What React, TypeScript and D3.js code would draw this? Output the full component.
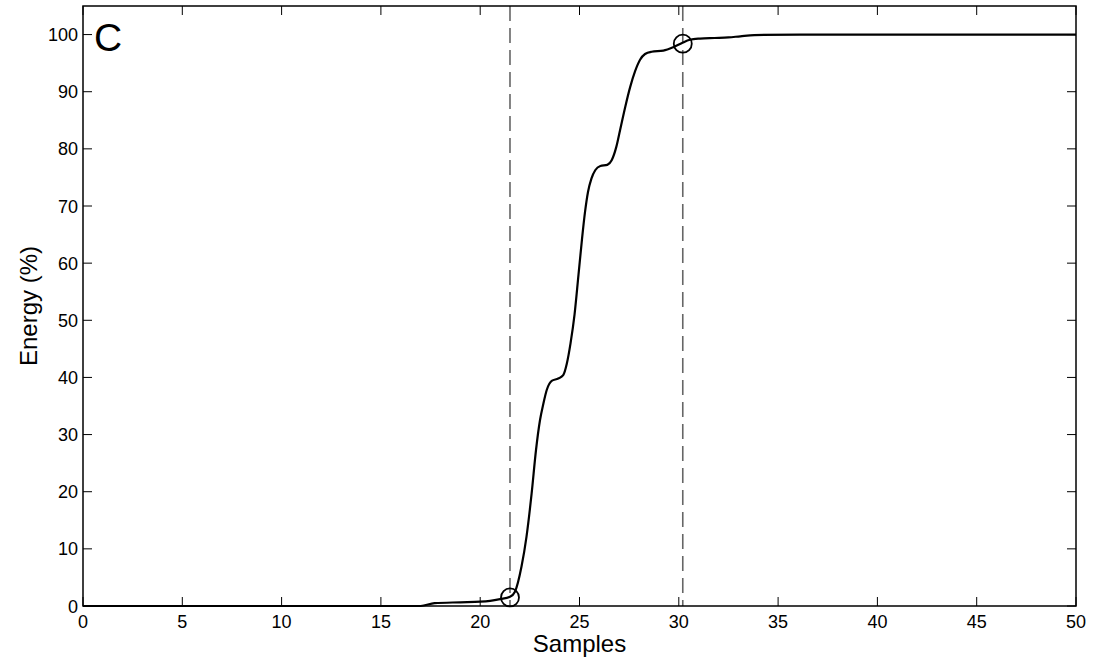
import React from "react";
import * as d3 from "d3";

// Cumulative energy curve (percent) against sample index
const sampleX = [
  0, 17, 17.7, 19, 20, 20.5, 21, 21.5, 21.75, 22.08, 22.33, 22.59, 22.81, 23.01, 23.18,
  23.35, 23.6, 23.93, 24.18, 24.36, 24.55, 24.75, 24.95, 25.12, 25.28, 25.43, 25.6,
  25.8, 26.05, 26.4, 26.62, 26.85, 27.05, 27.3, 27.55, 27.8, 28.05, 28.3, 28.63,
  29.22, 29.72, 30.14, 30.56, 31.07, 31.8, 32.5, 33.1, 33.8, 36.1, 50,
];
const energyPct = [
  0, 0, 0.5, 0.65, 0.75, 0.9, 1.2, 1.6, 2.5, 6.9, 12.1, 19.7, 27.3, 32.5, 35.4,
  37.8, 39.4, 39.8, 40.4, 42.4, 46.0, 51.0, 58.0, 64.0, 69.0, 72.5, 74.8,
  76.3, 77.0, 77.2, 78.0, 80.3, 83.4, 87.3, 90.8, 93.6, 95.6, 96.6, 97.0,
  97.2, 97.8, 98.5, 99.1, 99.3, 99.4, 99.5, 99.7, 99.9, 100, 100,
];

// Start / end markers of the energy window
const markerX = [21.5, 30.2];
const markerY = [1.5, 98.4];

const xTicks = [0, 5, 10, 15, 20, 25, 30, 35, 40, 45, 50];
const yTicks = [0, 10, 20, 30, 40, 50, 60, 70, 80, 90, 100];

const W = 1096;
const H = 667;
const left = 83;
const top = 6;
const right = 1076;
const bottom = 606;
const tickLen = 9;
const font = "Arial, 'Liberation Sans', sans-serif";

export default function App() {
  const x = d3.scaleLinear().domain([0, 50]).range([left, right]);
  const y = d3.scaleLinear().domain([0, 105]).range([bottom, top]);

  const pts: [number, number][] = sampleX.map((v, i) => [v, energyPct[i]]);
  const line = d3
    .line<[number, number]>()
    .x((d) => x(d[0]))
    .y((d) => y(d[1]))
    .curve(d3.curveMonotoneX);

  return (
    <svg
      width={W}
      height={H}
      style={{ position: "absolute", left: 0, top: 0, background: "#fff" }}
    >
      <rect x={0} y={0} width={W} height={H} fill="#fff" />

      {/* dashed window boundaries */}
      {markerX.map((m, i) => (
        <line
          key={"d" + i}
          x1={x(m)}
          x2={x(m)}
          y1={top}
          y2={bottom}
          stroke="#666"
          strokeWidth={1.6}
          strokeDasharray="15 7"
        />
      ))}

      {/* energy curve */}
      <path d={line(pts) ?? ""} fill="none" stroke="#000" strokeWidth={2.2} />

      {/* markers */}
      {markerX.map((m, i) => (
        <circle
          key={"c" + i}
          cx={x(m)}
          cy={y(markerY[i])}
          r={9}
          fill="none"
          stroke="#000"
          strokeWidth={1.8}
        />
      ))}

      {/* frame */}
      <rect
        x={left}
        y={top}
        width={right - left}
        height={bottom - top}
        fill="none"
        stroke="#000"
        strokeWidth={1.5}
      />

      {/* x ticks (bottom and top, inward) */}
      {xTicks.map((t) => (
        <g key={"x" + t}>
          <line x1={x(t)} x2={x(t)} y1={bottom} y2={bottom - tickLen} stroke="#000" strokeWidth={1} />
          <line x1={x(t)} x2={x(t)} y1={top} y2={top + tickLen} stroke="#000" strokeWidth={1} />
          <text
            x={x(t)}
            y={628}
            textAnchor="middle"
            fontFamily={font}
            fontSize={18}
            fill="#000"
          >
            {t}
          </text>
        </g>
      ))}

      {/* y ticks (left and right, inward) */}
      {yTicks.map((t) => (
        <g key={"y" + t}>
          <line x1={left} x2={left + tickLen} y1={y(t)} y2={y(t)} stroke="#000" strokeWidth={1} />
          <line x1={right} x2={right - tickLen} y1={y(t)} y2={y(t)} stroke="#000" strokeWidth={1} />
          <text
            x={78}
            y={y(t) + 6.5}
            textAnchor="end"
            fontFamily={font}
            fontSize={18}
            fill="#000"
          >
            {t}
          </text>
        </g>
      ))}

      {/* axis titles */}
      <text
        x={(left + right) / 2}
        y={652}
        textAnchor="middle"
        fontFamily={font}
        fontSize={24}
        fill="#000"
      >
        Samples
      </text>
      <text
        transform={`translate(37, ${(top + bottom) / 2}) rotate(-90)`}
        textAnchor="middle"
        fontFamily={font}
        fontSize={24}
        fill="#000"
      >
        Energy (%)
      </text>

      {/* panel letter */}
      <text x={94} y={51} fontFamily={font} fontSize={39} fill="#000">
        C
      </text>
    </svg>
  );
}
